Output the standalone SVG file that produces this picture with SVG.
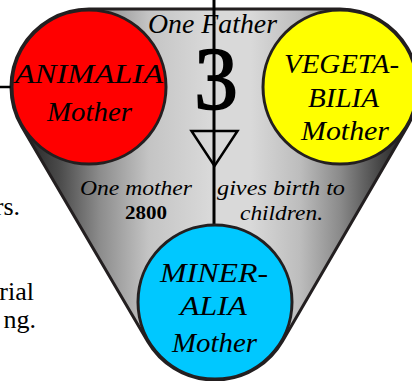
<svg xmlns="http://www.w3.org/2000/svg" width="412" height="381" viewBox="0 0 412 381">
<defs>
<linearGradient id="g" gradientUnits="userSpaceOnUse" x1="10" y1="0" x2="418" y2="0">
<stop offset="0.025" stop-color="#1e1e1e"/>
<stop offset="0.12" stop-color="#4a4a4a"/>
<stop offset="0.22" stop-color="#8c8c8c"/>
<stop offset="0.34" stop-color="#c4c4c4"/>
<stop offset="0.49" stop-color="#d9d9d9"/>
<stop offset="0.59" stop-color="#d9d9d9"/>
<stop offset="0.71" stop-color="#bdbdbd"/>
<stop offset="0.81" stop-color="#8a8a8a"/>
<stop offset="0.91" stop-color="#444444"/>
<stop offset="0.98" stop-color="#1a1a1a"/>
</linearGradient>
<style>
.c{stroke:#231f20;stroke-width:3}
.t{font-family:"Liberation Serif","Times New Roman",serif;font-style:italic;font-size:28px;fill:#000;text-anchor:middle}
.s{font-size:22px}
.p{font-family:"Liberation Serif","Times New Roman",serif;font-size:26px;fill:#000;text-anchor:end}
</style>
</defs>
<g id="side-text">
<text class="p" x="20" y="215">rs.</text>
<text class="p" x="34" y="300">rial</text>
<text class="p" x="36" y="328">ng.</text>
</g>
<g id="body">
<path d="M89,9 L340,9 A78,78 0 0 1 407.43,126.2 L282.43,341.2 A78,78 0 0 1 147.7,341.44 L21.7,126.44 A78,78 0 0 1 89,9 Z" fill="url(#g)" stroke="#231f20" stroke-width="3"/>
<text class="t" x="212.5" y="33" textLength="129" lengthAdjust="spacingAndGlyphs">One Father</text>
<text x="216" y="108" font-family="Liberation Serif,Times New Roman,serif" font-size="88" text-anchor="middle" fill="#000" stroke="#000" stroke-width="1.6">3</text>
<text class="t s" x="136" y="195" textLength="112" lengthAdjust="spacingAndGlyphs">One mother</text>
<text x="146" y="219" font-family="Liberation Serif,Times New Roman,serif" font-weight="bold" font-size="18" text-anchor="middle" fill="#000" textLength="42" lengthAdjust="spacingAndGlyphs">2800</text>
<text class="t s" x="281" y="195" textLength="128" lengthAdjust="spacingAndGlyphs">gives birth to</text>
<text class="t s" x="281.5" y="220" textLength="83" lengthAdjust="spacingAndGlyphs">children.</text>
</g>
<g id="connectors" fill="none" stroke="#000">
<line x1="0" y1="87" x2="14" y2="87" stroke-width="2.5"/>
<line x1="214" y1="0" x2="214" y2="228" stroke-width="3"/>
<path d="M191.5,131 L237.5,131 L214.5,166 Z" stroke-width="2.5" stroke-linejoin="miter"/>
</g>
<g id="animalia">
<circle class="c" cx="89" cy="87" r="77" fill="#ff0000"/>
<text class="t" x="89" y="83" textLength="148" lengthAdjust="spacingAndGlyphs">ANIMALIA</text>
<text class="t" x="89.5" y="121" textLength="85" lengthAdjust="spacingAndGlyphs">Mother</text>
</g>
<g id="vegetabilia">
<circle class="c" cx="340" cy="87" r="77" fill="#ffff00"/>
<text class="t" x="341.5" y="73" textLength="115" lengthAdjust="spacingAndGlyphs">VEGETA-</text>
<text class="t" x="343.5" y="107" textLength="71" lengthAdjust="spacingAndGlyphs">BILIA</text>
<text class="t" x="345" y="140" textLength="88" lengthAdjust="spacingAndGlyphs">Mother</text>
</g>
<g id="mineralia">
<circle class="c" cx="215" cy="302" r="77" fill="#00c8ff"/>
<text class="t" x="214" y="282" textLength="108" lengthAdjust="spacingAndGlyphs">MINER-</text>
<text class="t" x="213.5" y="315" textLength="67" lengthAdjust="spacingAndGlyphs">ALIA</text>
<text class="t" x="214.5" y="352" textLength="85" lengthAdjust="spacingAndGlyphs">Mother</text>
</g>
</svg>
